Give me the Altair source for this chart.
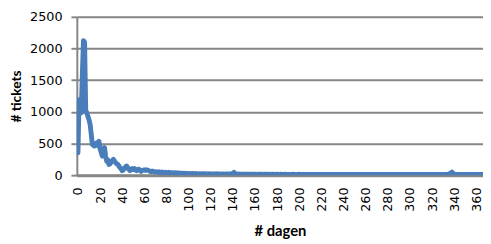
import altair as alt
import pandas as pd

tickets = [
    355, 1190, 1050, 985, 1600, 2125, 2100, 1030, 980, 930, 875,
    800, 650, 485, 470, 460, 490, 510, 470, 535, 420,
    360, 300, 400, 435, 300, 220, 240, 170, 180, 200,
    230, 250, 220, 200, 180, 170, 145, 120, 100, 70,
    80, 110, 130, 145, 120, 90, 70, 85, 105, 90,
    105, 80, 70, 90, 95, 75, 60, 70, 80, 85,
    75, 85, 80, 70, 60, 55, 65, 60, 50, 55,
    50, 45, 55, 45, 40, 50, 45, 40, 45, 40,
    35, 45, 40, 35, 40, 35, 30, 40, 35, 30,
    35, 30, 28, 32, 30, 25, 30, 28, 25, 27,
    25, 22, 28, 24, 20, 26, 23, 21, 25, 22,
    20, 24, 22, 19, 23, 21, 18, 22, 20, 19,
    21, 18, 20, 17, 22, 19, 18, 20, 17, 19,
    18, 16, 19, 17, 20, 18, 16, 19, 25, 30,
    45, 22, 17, 15, 18, 16, 14, 17, 15, 16,
    14, 16, 15, 13, 17, 14, 15, 13, 16, 14,
    15, 13, 14, 16, 12, 15, 13, 14, 12, 15,
    13, 14, 12, 13, 15, 12, 14, 13, 11, 14,
    12, 13, 14, 11, 13, 12, 14, 11, 13, 12,
    11, 13, 12, 14, 11, 12, 13, 11, 12, 14,
    12, 11, 13, 12, 10, 13, 12, 11, 12, 13,
    11, 12, 10, 13, 11, 12, 11, 13, 10, 12,
    11, 12, 13, 10, 11, 12, 10, 13, 11, 12,
    10, 11, 12, 11, 13, 10, 12, 11, 10, 12,
    11, 10, 12, 11, 13, 10, 11, 12, 10, 11,
    12, 10, 11, 13, 10, 12, 11, 10, 12, 11,
    10, 12, 11, 10, 13, 11, 10, 12, 11, 10,
    12, 11, 10, 11, 12, 10, 13, 11, 10, 12,
    11, 10, 12, 11, 10, 12, 11, 10, 13, 11,
    10, 12, 11, 10, 11, 12, 10, 11, 13, 10,
    12, 11, 10, 12, 11, 10, 12, 11, 10, 11,
    12, 10, 11, 12, 10, 11, 13, 10, 12, 11,
    10, 12, 11, 10, 12, 11, 13, 10, 11, 12,
    10, 11, 12, 14, 18, 25, 35, 50, 30, 15,
    12, 11, 10, 12, 11, 10, 12, 11, 10, 11,
    12, 10, 11, 12, 10, 11, 12, 10, 11, 12,
    10, 11, 12, 10, 11, 10,
]
days = list(range(len(tickets)))
x_ticks = list(range(0, 361, 20))
y_ticks = [0, 500, 1000, 1500, 2000, 2500]

df = pd.DataFrame({"dag": days, "tickets": tickets})

LABEL_FONT = "DejaVu Sans"
TITLE_FONT = "Lato"
GRID = "#868686"

chart = alt.Chart(df).mark_line(
    color="#4a7ebb", strokeWidth=5, strokeJoin="round", strokeCap="round", clip=True
).encode(
    x=alt.X(
        "dag:Q",
        scale=alt.Scale(domain=[-1, 366], nice=False, zero=False),
        axis=alt.Axis(
            values=x_ticks, format="d", title="# dagen", labelAngle=-90, labelAlign="right",
            labelBaseline="middle", labelFont=LABEL_FONT, labelFontSize=13, labelColor="#000000",
            labelPadding=12, titleFont=TITLE_FONT, titleFontSize=15, titleFontWeight="bold",
            titleColor="#000000", titlePadding=13, grid=False, domainColor=GRID,
            domainWidth=3, ticks=False, labelFlush=False, labelOverlap=False,
        ),
    ),
    y=alt.Y(
        "tickets:Q",
        scale=alt.Scale(domain=[0, 2500], nice=False),
        axis=alt.Axis(
            values=y_ticks, format="d", title="# tickets", labelFont=LABEL_FONT, labelFontSize=13,
            labelColor="#000000", labelPadding=9, titleFont=TITLE_FONT, titleFontSize=14,
            titleFontWeight="bold", titleColor="#000000", titlePadding=6,
            gridColor=GRID, gridWidth=2, gridOpacity=1, domainColor=GRID, domainWidth=2,
            tickColor=GRID, tickSize=6, tickWidth=2, labelFlush=False,
        ),
    ),
).properties(
    width=413, height=161,
    autosize=alt.AutoSizeParams(type="none"),
    padding={"left": 70, "top": 7, "right": 0, "bottom": 68},
).configure_view(stroke=None).configure(background="white")

chart.save("out.html", embed_options={"renderer": "svg", "actions": False})
